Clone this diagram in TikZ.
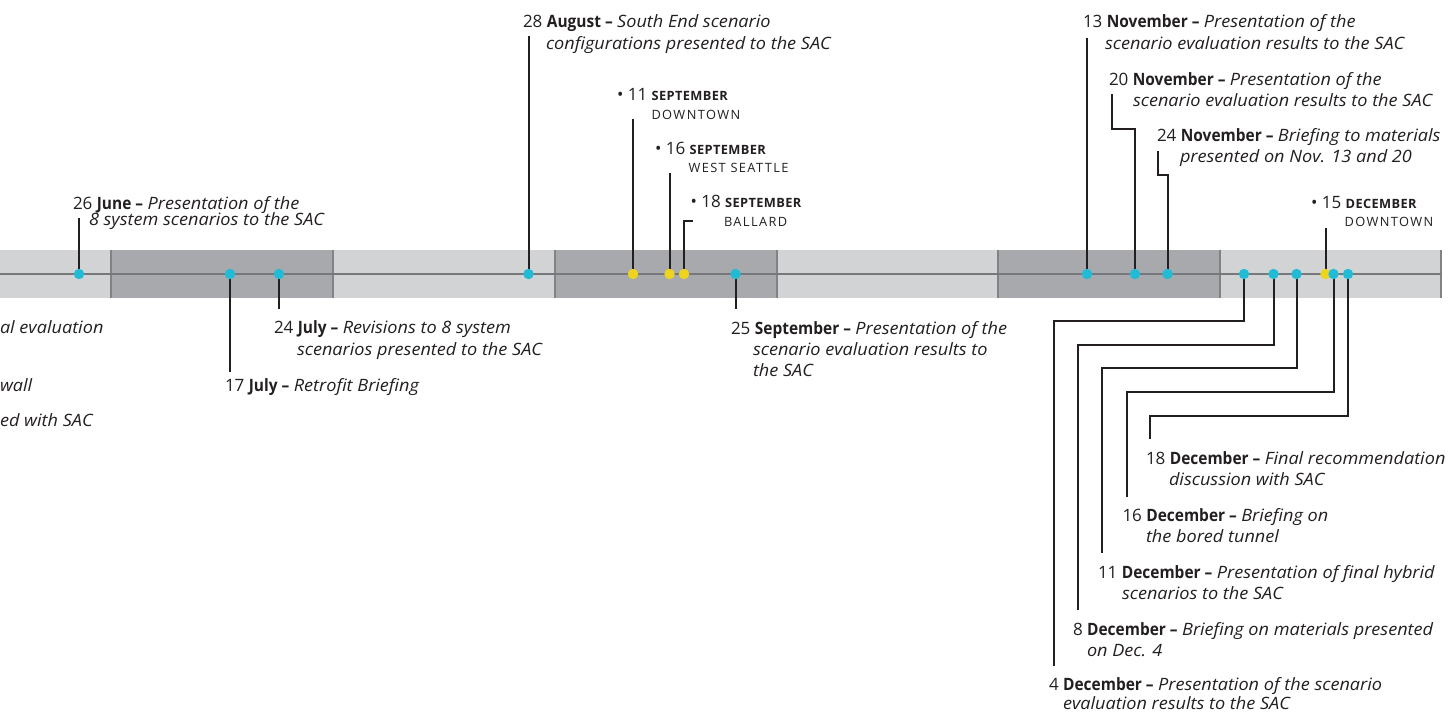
\documentclass[tikz,border=0pt]{standalone}
\usepackage{fontspec}
\setmainfont{Open Sans}[ItalicFeatures={FakeStretch=1.065}, BoldFeatures={FakeStretch=0.91}]
\newfontfamily\capsreg[LetterSpace=11]{Open Sans}
\newfontfamily\capsbf[LetterSpace=3]{Open Sans}
\definecolor{ink}{HTML}{231F20}
\definecolor{bandlight}{HTML}{D1D3D4}
\definecolor{banddark}{HTML}{A7A9AC}
\definecolor{divider}{HTML}{808285}
\definecolor{axisline}{HTML}{77787B}
\definecolor{cyandot}{HTML}{22BBD5}
\definecolor{yellowdot}{HTML}{EED41E}
\newcommand\lblsize{\fontsize{17}{21}\selectfont}
\newcommand\capsize{\fontsize{12.8}{15}\selectfont}
\newcommand\dateline[3]{#1 \textbf{#2 --} \textit{#3}}
\newcommand\evcap[2]{\textbullet\ #1 {\capsize\capsbf\bfseries #2}}
\tikzset{
  lbl/.style={anchor=base west, inner sep=0pt, outer sep=0pt, text=ink, font=\lblsize},
  caplbl/.style={anchor=base west, inner sep=0pt, outer sep=0pt, text=ink, font=\capsize\capsreg},
  leader/.style={draw=ink, line width=2pt},
  cdot/.style={circle, fill=cyandot, minimum size=10.4pt, inner sep=0pt},
  ydot/.style={circle, fill=yellowdot, minimum size=10.4pt, inner sep=0pt},
  divline/.style={draw=divider, line width=1.5pt},
}
\begin{document}
\begin{tikzpicture}[x=1pt,y=-1pt]
\useasboundingbox (0,0) rectangle (1451,713);
% band
\fill[bandlight] (0,250) rectangle (1441,298);
\foreach \a in {111,555,998}{\fill[banddark] (\a,250) rectangle ({\a+222},298);}
\foreach \a in {111,333,555,777,998,1220,1441}{\draw[divline] (\a,250) -- (\a,298);}
\draw[axisline, line width=1.2pt] (0,274) -- (1441,274);
% dot positions
\coordinate (p26jun) at (79,274);
\coordinate (p17jul) at (230,274);
\coordinate (p24jul) at (279,274);
\coordinate (p28aug) at (528.5,274);
\coordinate (p11sep) at (633,274);
\coordinate (p16sep) at (669.5,274);
\coordinate (p18sep) at (684,274);
\coordinate (p25sep) at (735.5,274);
\coordinate (p13nov) at (1087,274);
\coordinate (p20nov) at (1135,274);
\coordinate (p24nov) at (1167.5,274);
\coordinate (p4dec) at (1244,274);
\coordinate (p8dec) at (1273.5,274);
\coordinate (p11dec) at (1296.5,274);
\coordinate (p15dec) at (1325.5,274);
\coordinate (p16dec) at (1333.5,274);
\coordinate (p18dec) at (1348,274);
% leader ends
\coordinate (e26jun) at (79,218);
\coordinate (e17jul) at (230,372);
\coordinate (e24jul) at (279,309);
\coordinate (e28aug) at (528.5,36);
\coordinate (e11sep) at (633,119);
\coordinate (e16sep) at (669.5,173);
\coordinate (e18sep) at (693,221);
\coordinate (e25sep) at (735.5,309);
\coordinate (e13nov) at (1087,38);
\coordinate (e20nov) at (1112,94);
\coordinate (e24nov) at (1158,151);
\coordinate (e15dec) at (1325.5,228);
\coordinate (e4dec) at (1054,666);
\coordinate (e8dec) at (1078,610);
\coordinate (e11dec) at (1102,553);
\coordinate (e16dec) at (1127,497);
\coordinate (e18dec) at (1150,439);
% leaders
\draw[leader] (p26jun) -- (e26jun);
\draw[leader] (p17jul) -- (e17jul);
\draw[leader] (p24jul) -- (e24jul);
\draw[leader] (p28aug) -- (e28aug);
\draw[leader] (p11sep) -- (e11sep);
\draw[leader] (p16sep) -- (e16sep);
\draw[leader] (p18sep) |- (e18sep);
\draw[leader] (p25sep) -- (e25sep);
\draw[leader] (p13nov) -- (e13nov);
\draw[leader] (p20nov) -- ++(0,-145) -| (e20nov);
\draw[leader] (p24nov) -- ++(0,-99) -| (e24nov);
\draw[leader] (p15dec) -- (e15dec);
\draw[leader] (p4dec) -- ++(0,47) -| (e4dec);
\draw[leader] (p8dec) -- ++(0,71) -| (e8dec);
\draw[leader] (p11dec) -- ++(0,94) -| (e11dec);
\draw[leader] (p16dec) -- ++(0,118) -| (e16dec);
\draw[leader] (p18dec) -- ++(0,142) -| (e18dec);
% dots
\node[cdot] (d26jun) at (p26jun) {};
\node[cdot] (d17jul) at (p17jul) {};
\node[cdot] (d24jul) at (p24jul) {};
\node[cdot] (d28aug) at (p28aug) {};
\node[ydot] (d11sep) at (p11sep) {};
\node[ydot] (d16sep) at (p16sep) {};
\node[ydot] (d18sep) at (p18sep) {};
\node[cdot] (d25sep) at (p25sep) {};
\node[cdot] (d13nov) at (p13nov) {};
\node[cdot] (d20nov) at (p20nov) {};
\node[cdot] (d24nov) at (p24nov) {};
\node[cdot] (d4dec) at (p4dec) {};
\node[cdot] (d8dec) at (p8dec) {};
\node[cdot] (d11dec) at (p11dec) {};
\node[ydot] (d15dec) at (p15dec) {};
\node[cdot] (d16dec) at (p16dec) {};
\node[cdot] (d18dec) at (p18dec) {};
% left fragments
\node[lbl] (fa) at (0,333) {\textit{al evaluation}};
\node[lbl] (fb) at (0,391.5) {\textit{wall}};
\node[lbl] (fc) at (0,426.5) {\textit{ed with SAC}};
% labels
\node[lbl] (l26a) at (73,209) {\dateline{26}{June}{Presentation of the}};
\node[lbl] (l26b) at (89,225) {\textit{8 system scenarios to the SAC}};
\node[lbl] (l24ja) at (274,333) {\dateline{24}{July}{Revisions to 8 system}};
\node[lbl] (l24jb) at (297,355) {\textit{scenarios presented to the SAC}};
\node[lbl] (l17j) at (225,391) {\dateline{17}{July}{Retrofit Briefing}};
\node[lbl] (l28a) at (523,27.5) {\dateline{28}{August}{South End scenario}};
\node[lbl] (l28b) at (546,49) {\textit{configurations presented to the SAC}};
\node[lbl] (l25a) at (731,334) {\dateline{25}{September}{Presentation of the}};
\node[lbl] (l25b) at (753,355.5) {\textit{scenario evaluation results to}};
\node[lbl] (l25c) at (753,376.5) {\textit{the SAC}};
\node[lbl] (l13a) at (1083,27.5) {\dateline{13}{November}{Presentation of the}};
\node[lbl] (l13b) at (1105,49) {\textit{scenario evaluation results to the SAC}};
\node[lbl] (l20a) at (1109,85) {\dateline{20}{November}{Presentation of the}};
\node[lbl] (l20b) at (1133,106.5) {\textit{scenario evaluation results to the SAC}};
\node[lbl] (l24na) at (1157,141.5) {\dateline{24}{November}{Briefing to materials}};
\node[lbl] (l24nb) at (1180,162.5) {\textit{presented on Nov. 13 and 20}};
\node[lbl] (l18a) at (1146,464) {\dateline{18}{December}{Final recommendation}};
\node[lbl] (l18b) at (1169,485.5) {\textit{discussion with SAC}};
\node[lbl] (l16a) at (1122.5,521) {\dateline{16}{December}{Briefing on}};
\node[lbl] (l16b) at (1146,542) {\textit{the bored tunnel}};
\node[lbl] (l11a) at (1098,578) {\dateline{11}{December}{Presentation of final hybrid}};
\node[lbl] (l11b) at (1122,599) {\textit{scenarios to the SAC}};
\node[lbl] (l8a) at (1073,635) {\dateline{8}{December}{Briefing on materials presented}};
\node[lbl] (l8b) at (1087,656) {\textit{on Dec. 4}};
\node[lbl] (l4a) at (1049,690.5) {\dateline{4}{December}{Presentation of the scenario}};
\node[lbl] (l4b) at (1063,709) {\textit{evaluation results to the SAC}};
% event captions
\node[lbl] (c11a) at (617,100) {\evcap{11}{SEPTEMBER}};
\node[caplbl] (c11b) at (651.5,119) {DOWNTOWN};
\node[lbl] (c16a) at (655,154) {\evcap{16}{SEPTEMBER}};
\node[caplbl] (c16b) at (688.5,172.5) {WEST SEATTLE};
\node[lbl] (c18a) at (690.5,207.5) {\evcap{18}{SEPTEMBER}};
\node[caplbl] (c18b) at (724,226.5) {BALLARD};
\node[lbl] (c15a) at (1311,208.5) {\evcap{15}{DECEMBER}};
\node[caplbl] (c15b) at (1344.5,226.5) {DOWNTOWN};
\end{tikzpicture}
\end{document}
